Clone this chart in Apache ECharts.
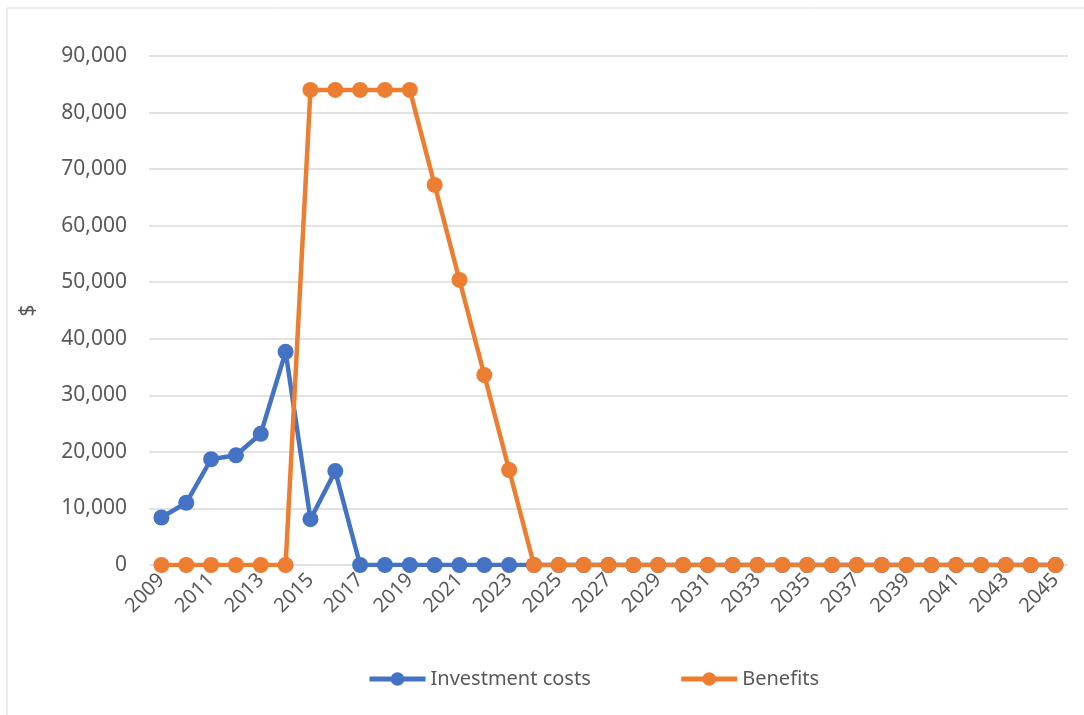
<!DOCTYPE html>
<html>
<head>
<meta charset="utf-8">
<script src="https://cdn.jsdelivr.net/npm/echarts@6/dist/echarts.min.js"></script>
<style>
  html, body { margin: 0; padding: 0; background: #fff; }
  #chart { width: 1084px; height: 715px; }
</style>
</head>
<body>
<div id="chart"></div>
<script>
// years 2009 - 2045
var years = ['2009','2010','2011','2012','2013','2014','2015','2016','2017','2018',
  '2019','2020','2021','2022','2023','2024','2025','2026','2027','2028',
  '2029','2030','2031','2032','2033','2034','2035','2036','2037','2038',
  '2039','2040','2041','2042','2043','2044','2045'];

var investmentCosts = [8400, 11000, 18700, 19400, 23200, 37700, 8100, 16600, 0, 0,
  0, 0, 0, 0, 0, 0, 0, 0, 0, 0,
  0, 0, 0, 0, 0, 0, 0, 0, 0, 0,
  0, 0, 0, 0, 0, 0, 0];

var benefits = [0, 0, 0, 0, 0, 0, 84000, 84000, 84000, 84000,
  84000, 67200, 50400, 33600, 16800, 0, 0, 0, 0, 0,
  0, 0, 0, 0, 0, 0, 0, 0, 0, 0,
  0, 0, 0, 0, 0, 0, 0];

var fontFam = '"Noto Sans", "Open Sans", sans-serif';
var textColor = '#595959';

var chart = echarts.init(document.getElementById('chart'));
chart.setOption({
  animation: false,
  color: ['#4472C4', '#ED7D31'],
  textStyle: { fontFamily: fontFam },
  // 外框
  graphic: [{
    type: 'rect',
    shape: { x: 7, y: 8, width: 1090, height: 720 },
    style: { fill: 'none', stroke: '#d9d9d9', lineWidth: 1 },
    silent: true
  }],
  grid: { left: 149, right: 16, top: 56, bottom: 150 },
  legend: {
    bottom: 21,
    left: 362,
    itemWidth: 56,
    itemHeight: 17,
    itemGap: 88,
    lineStyle: { width: 5 },
    textStyle: { color: textColor, fontSize: 20, fontFamily: fontFam },
    data: ['Investment costs', 'Benefits']
  },
  xAxis: {
    type: 'category',
    data: years,
    boundaryGap: true,
    axisLine: { show: false },
    axisTick: { show: false },
    axisLabel: {
      interval: 1,
      rotate: 45,
      color: textColor,
      fontSize: 20,
      margin: 12
    }
  },
  yAxis: {
    type: 'value',
    min: 0,
    max: 90000,
    interval: 10000,
    name: '$',
    nameLocation: 'middle',
    nameGap: 110,
    nameRotate: 90,
    nameTextStyle: { color: textColor, fontSize: 21 },
    axisLine: { show: false },
    axisTick: { show: false },
    splitLine: { lineStyle: { color: '#d9d9d9', width: 1.5 } },
    axisLabel: {
      color: textColor,
      fontSize: 21,
      margin: 22,
      formatter: function (v) { return v.toLocaleString('en-US'); }
    }
  },
  series: [
    {
      name: 'Investment costs',
      type: 'line',
      data: investmentCosts,
      symbol: 'circle',
      symbolSize: 16,
      lineStyle: { width: 4.5 },
      z: 2
    },
    {
      name: 'Benefits',
      type: 'line',
      data: benefits,
      symbol: 'circle',
      symbolSize: 16,
      lineStyle: { width: 4.5 },
      z: 3
    }
  ]
});
</script>
</body>
</html>
